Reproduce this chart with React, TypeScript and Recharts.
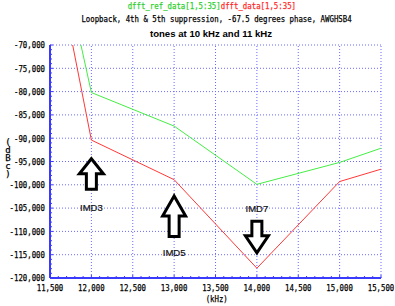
import { LineChart, Line, XAxis, YAxis, ReferenceLine, ReferenceDot, Customized } from "recharts";

document.body.style.margin = "0";

// frequencies (kHz) and levels (dBc, x1000 as on the original plot)
const freqs = [11000, 12000, 13000, 14000, 15000, 16000];
const refLevels = [700, -80200, -87400, -99900, -95200, -89100];
const dutLevels = [-150, -90400, -98900, -117900, -99300, -94000];

const xMajor = [11500, 12000, 12500, 13000, 13500, 14000, 14500, 15000, 15500];
const yMajor = [-120000, -115000, -110000, -105000, -100000, -95000, -90000, -85000, -80000, -75000, -70000];

// annotations: where each arrow points and where its caption sits
const imdNames = ["IMD3", "IMD5", "IMD7"];
const imdFreq = [12000, 13000, 14000];
const imdTip = [-94400, -102400, -114600];
const imdCaption = [-104900, -114600, -105000];

const data = freqs.map((f, i) => ({ f, ref: refLevels[i], dut: dutLevels[i] }));

const xMinor: number[] = [];
for (let v = 11500; v <= 15500; v += 100) xMinor.push(v);
const yMinor: number[] = [];
for (let v = -120000; v <= -70000; v += 1000) yMinor.push(v);

const AXIS = "#3a3aff";
const GRID = "#6a6aff";
const MONO = "'DejaVu Sans Mono', monospace";
const CW = 4.43; // squeezed char width, mimics the bitmap font
const INK = { stroke: "#000", strokeWidth: 0.25 };

const fmt = (v: number) => v.toLocaleString("en-US");

const XTick = (props: any) => {
  const { x, y, payload } = props;
  const v = payload.value;
  const major = v % 500 === 0;
  const s = fmt(v);
  return (
    <g>
      <line x1={x} x2={x} y1={y} y2={y - (major ? 3 : 2)} stroke={AXIS} />
      {major && (
        <text x={x} y={y + 12.5} textAnchor="middle" fontFamily={MONO} fontSize={9} fill="#000" {...INK}
          textLength={s.length * CW} lengthAdjust="spacingAndGlyphs">{s}</text>
      )}
    </g>
  );
};

const YTick = (props: any) => {
  const { x, y, payload } = props;
  const v = payload.value;
  const major = v % 5000 === 0;
  const s = fmt(v);
  return (
    <g>
      <line x1={x} x2={x + (major ? 3 : 2)} y1={y} y2={y} stroke={AXIS} />
      {major && (
        <text x={x - 5} y={y + 3.3} textAnchor="end" fontFamily={MONO} fontSize={9} fill="#000" {...INK}
          textLength={s.length * CW} lengthAdjust="spacingAndGlyphs">{s}</text>
      )}
    </g>
  );
};

const arrow = (dir: number, len: number, head: number, headH: number) => (p: any) => {
  const { cx, cy } = p;
  const sw = 5;
  const d = `M${cx},${cy} L${cx + head},${cy + dir * headH} L${cx + sw},${cy + dir * headH} L${cx + sw},${cy + dir * len} L${cx - sw},${cy + dir * len} L${cx - sw},${cy + dir * headH} L${cx - head},${cy + dir * headH} Z`;
  return <path d={d} fill="#fff" stroke="#000" strokeWidth={3} />;
};

const caption = (name: string) => (p: any) => (
  <text x={p.cx} y={p.cy + 3.5} textAnchor="middle" fontFamily="'Liberation Sans', Arial, sans-serif" fontSize={9.5} fill="#111" stroke="#111" strokeWidth={0.2}>
    {name}
  </text>
);

const Titles = () => {
  const a = "dfft_ref_data[1,5:35]";
  const b = "dfft_data[1,5:35]";
  const sub = "Loopback, 4th & 5th suppression, -67.5 degrees phase, AWGHSB4";
  const unit = "(dBc)";
  return (
    <g>
      <text x={127.7} y={9} fontFamily={MONO} fontSize={9} fill="#2fd02f" stroke="#2fd02f" strokeWidth={0.25} textLength={a.length * CW} lengthAdjust="spacingAndGlyphs">{a}</text>
      <text x={127.7 + a.length * CW} y={9} fontFamily={MONO} fontSize={9} fill="#ff2a2a" stroke="#ff2a2a" strokeWidth={0.25} textLength={b.length * CW} lengthAdjust="spacingAndGlyphs">{b}</text>
      <text x={216.5} y={21.5} textAnchor="middle" fontFamily={MONO} fontSize={9} fill="#000" {...INK} textLength={sub.length * CW} lengthAdjust="spacingAndGlyphs">{sub}</text>
      <text x={211} y={36.5} textAnchor="middle" fontFamily="'Liberation Sans', Arial, sans-serif" fontWeight="bold" fontSize={9.6} fill="#000">tones at 10 kHz and 11 kHz</text>
      <text x={216.7} y={302} textAnchor="middle" fontFamily={MONO} fontSize={9} fill="#000" {...INK} textLength={5 * CW} lengthAdjust="spacingAndGlyphs">(kHz)</text>
      {unit.split("").map((c, i) => (
        <text key={i} x={8} y={145 + i * 8} textAnchor="middle" fontFamily={MONO} fontSize={9} fill="#000" {...INK}>{c}</text>
      ))}
    </g>
  );
};

export default function App() {
  return (
    <div style={{ width: 395, height: 306, background: "#fff" }}>
      <LineChart width={395} height={306} data={data} margin={{ top: 45, right: 14, bottom: 0, left: 0 }}>
        <XAxis
          dataKey="f"
          type="number"
          domain={[11500, 15500]}
          allowDataOverflow
          ticks={xMinor}
          interval={0}
          tick={<XTick />}
          tickLine={false}
          tickSize={0}
          tickMargin={0}
          height={28}
          axisLine={{ stroke: AXIS, strokeWidth: 2 }}
        />
        <YAxis
          type="number"
          domain={[-120000, -70000]}
          allowDataOverflow
          ticks={yMinor}
          interval={0}
          tick={<YTick />}
          tickLine={false}
          tickSize={0}
          tickMargin={0}
          width={50}
          axisLine={{ stroke: AXIS, strokeWidth: 2 }}
        />
        {xMajor.slice(1).map((v) => (
          <ReferenceLine key={"x" + v} x={v} stroke={GRID} strokeDasharray="1 2" />
        ))}
        {yMajor.slice(1).map((v) => (
          <ReferenceLine key={"y" + v} y={v} stroke={GRID} strokeDasharray="1 2" />
        ))}
        <Line dataKey="ref" stroke="#44ee44" strokeWidth={1} dot={false} isAnimationActive={false} />
        <Line dataKey="dut" stroke="#ff3838" strokeWidth={1} dot={false} isAnimationActive={false} />
        <ReferenceDot x={imdFreq[0]} y={imdTip[0]} shape={arrow(1, 30.5, 12, 15)} />
        <ReferenceDot x={imdFreq[1]} y={imdTip[1]} shape={arrow(1, 40.5, 11.5, 20)} />
        <ReferenceDot x={imdFreq[2]} y={imdTip[2]} shape={arrow(-1, 31.5, 11.5, 17)} />
        {imdNames.map((n, i) => (
          <ReferenceDot key={n} x={imdFreq[i]} y={imdCaption[i]} shape={caption(n)} />
        ))}
        <Customized component={Titles} />
      </LineChart>
    </div>
  );
}
